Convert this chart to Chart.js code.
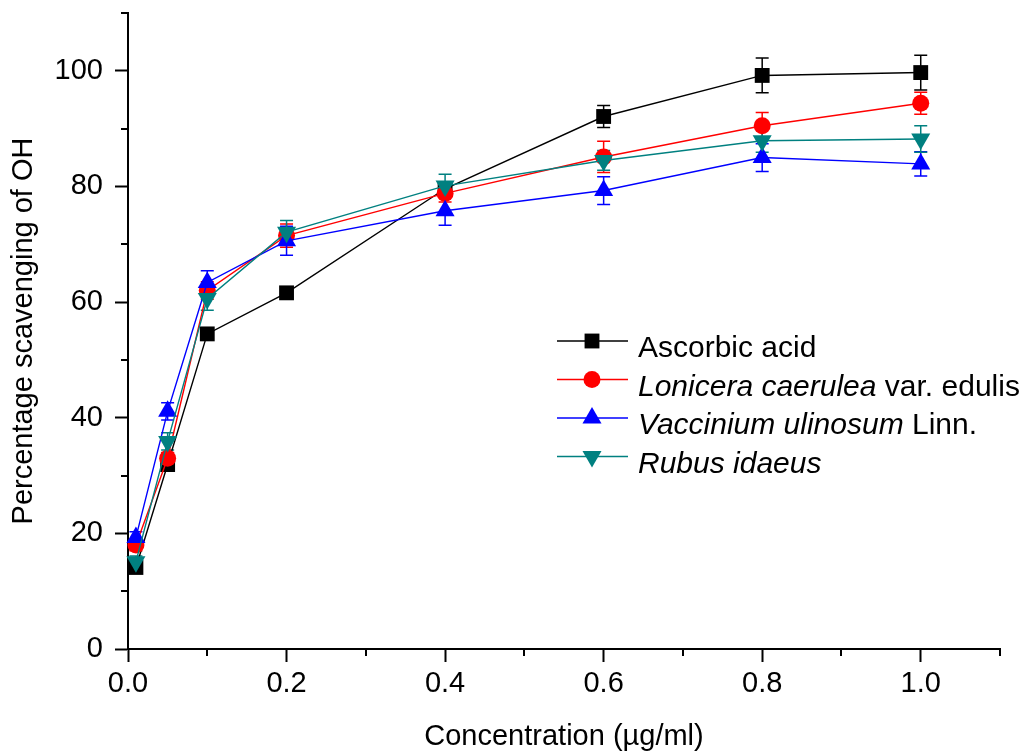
<!DOCTYPE html>
<html>
<head>
<meta charset="utf-8">
<script src="https://cdn.jsdelivr.net/npm/chart.js@4/dist/chart.umd.min.js"></script>
<style>
  html, body { margin: 0; padding: 0; background: #ffffff; }
  #wrap { width: 1024px; height: 751px; }
</style>
</head>
<body>
<div id="wrap"><canvas id="c" width="1024" height="751"></canvas></div>
<script>
const concentrations = [0.01, 0.05, 0.1, 0.2, 0.4, 0.6, 0.8, 1.0];
const ascorbicAcid = [14.1, 31.9, 54.5, 61.6, 79.6, 92.1, 99.2, 99.7];
const ascorbicErr = [0.8, 0.8, 1.0, 1.0, 1.0, 1.9, 3.0, 3.0];
const lonicera = [18.0, 33.0, 62.0, 71.5, 78.8, 85.1, 90.5, 94.4];
const loniceraErr = [1.0, 1.0, 1.5, 2.0, 1.5, 2.7, 2.3, 1.9];
const vaccinium = [19.3, 41.1, 63.4, 70.6, 75.8, 79.3, 85.0, 83.9];
const vacciniumErr = [1.0, 1.5, 2.0, 2.5, 2.5, 2.4, 2.4, 2.1];
const rubus = [15.1, 35.9, 60.6, 72.1, 80.1, 84.5, 87.9, 88.2];
const rubusErr = [1.0, 1.5, 2.0, 2.0, 2.0, 1.7, 2.0, 2.3];

const xTitle = 'Concentration (\u00b5g/ml)';
const yTitle = 'Percentage scavenging of OH';
const legendItems = [
  [['Ascorbic acid', false]],
  [['Lonicera caerulea', true], [' var. edulis', false]],
  [['Vaccinium ulinosum', true], [' Linn.', false]],
  [['Rubus idaeus', true]]
];

const FONT = '"Liberation Sans", Arial, Helvetica, sans-serif';

function pts(ys) { return concentrations.map((x, i) => ({ x: x, y: ys[i] })); }

const seriesDefs = [
  { label: 'Ascorbic acid', data: ascorbicAcid, err: ascorbicErr, color: '#000000', style: 'rect', radius: 10.5, rotation: 0, order: 3 },
  { label: 'Lonicera caerulea var. edulis', data: lonicera, err: loniceraErr, color: '#ff0000', style: 'circle', radius: 8.5, rotation: 0, order: 2 },
  { label: 'Vaccinium ulinosum Linn.', data: vaccinium, err: vacciniumErr, color: '#0000ff', style: 'triangle', radius: 11, rotation: 0, order: 1 },
  { label: 'Rubus idaeus', data: rubus, err: rubusErr, color: '#008080', style: 'triangle', radius: 11, rotation: 180, order: 0 }
];

const datasets = seriesDefs.map(s => ({
  label: s.label,
  data: pts(s.data),
  errors: s.err,
  showLine: true,
  borderColor: s.color,
  backgroundColor: s.color,
  borderWidth: 1.4,
  pointStyle: s.style,
  pointRadius: s.radius,
  pointRotation: s.rotation,
  pointBackgroundColor: s.color,
  pointBorderColor: s.color,
  pointBorderWidth: 0,
  tension: 0,
  order: s.order,
  clip: false
}));

const errorBarPlugin = {
  id: 'errorBars',
  beforeDatasetsDraw(chart) {
    const ctx = chart.ctx;
    const xs = chart.scales.x, ys = chart.scales.y;
    ctx.save();
    chart.data.datasets.forEach(ds => {
      ctx.strokeStyle = ds.borderColor;
      ctx.lineWidth = 1.5;
      ds.data.forEach((p, i) => {
        const e = ds.errors[i];
        const px = xs.getPixelForValue(p.x);
        const top = ys.getPixelForValue(p.y + e);
        const bot = ys.getPixelForValue(p.y - e);
        ctx.beginPath();
        ctx.moveTo(px, top); ctx.lineTo(px, bot);
        ctx.moveTo(px - 6.5, top); ctx.lineTo(px + 6.5, top);
        ctx.moveTo(px - 6.5, bot); ctx.lineTo(px + 6.5, bot);
        ctx.stroke();
      });
    });
    ctx.restore();
  }
};

const minorTickPlugin = {
  id: 'minorTicks',
  afterDraw(chart) {
    const ctx = chart.ctx;
    const xs = chart.scales.x, ys = chart.scales.y;
    const area = chart.chartArea;
    ctx.save();
    ctx.strokeStyle = '#000';
    ctx.lineWidth = 2;
    ctx.beginPath();
    for (let k = 1; k <= 11; k += 2) {
      const px = Math.round(xs.getPixelForValue(k / 10));
      ctx.moveTo(px, area.bottom); ctx.lineTo(px, area.bottom + 7);
    }
    for (let k = 1; k <= 11; k += 2) {
      const py = Math.round(ys.getPixelForValue(k * 10));
      ctx.moveTo(area.left, py); ctx.lineTo(area.left - 7, py);
    }
    ctx.stroke();
    ctx.restore();
  }
};

const legendPlugin = {
  id: 'customLegend',
  afterDraw(chart) {
    const ctx = chart.ctx;
    const x0 = 557, x1 = 628, mx = 592, tx = 638;
    const rowY = [341, 379.5, 418, 456.5];
    ctx.save();
    seriesDefs.forEach((s, i) => {
      const y = rowY[i];
      ctx.strokeStyle = s.color;
      ctx.lineWidth = 1.5;
      ctx.beginPath();
      ctx.moveTo(x0, y); ctx.lineTo(x1, y);
      ctx.stroke();
      ctx.fillStyle = s.color;
      Chart.helpers.drawPoint(ctx, {
        pointStyle: s.style, radius: s.radius, rotation: s.rotation, borderWidth: 0
      }, mx, y);
      let cx = tx;
      ctx.fillStyle = '#000';
      ctx.textBaseline = 'alphabetic';
      ctx.textAlign = 'left';
      legendItems[i].forEach(([txt, ital]) => {
        ctx.font = (ital ? 'italic ' : '') + '30px ' + FONT;
        ctx.fillText(txt, cx, y + 16);
        cx += ctx.measureText(txt).width;
      });
    });
    ctx.restore();
  }
};

new Chart(document.getElementById('c'), {
  type: 'scatter',
  data: { datasets: datasets },
  options: {
    responsive: false,
    devicePixelRatio: 1,
    animation: false,
    layout: { padding: { left: 0, top: 13, right: 24, bottom: 0 } },
    plugins: { legend: { display: false }, tooltip: { enabled: false } },
    scales: {
      x: {
        type: 'linear',
        min: 0,
        max: 1.1,
        afterFit(scale) { scale.height = 102; scale.paddingLeft = 0; scale.paddingRight = 0; },
        ticks: {
          stepSize: 0.2,
          includeBounds: false,
          padding: 5,
          color: '#000',
          font: { family: FONT, size: 29 },
          callback: v => Number(v).toFixed(1)
        },
        grid: { drawOnChartArea: false, drawTicks: true, tickLength: 13, tickWidth: 2, tickColor: '#000' },
        border: { display: true, color: '#000', width: 2 },
        title: { display: true, text: xTitle, color: '#000', font: { family: FONT, size: 29, lineHeight: 1.2 }, padding: { top: 0, bottom: -3 } }
      },
      y: {
        type: 'linear',
        min: 0,
        max: 110,
        afterFit(scale) { scale.width = 128; scale.paddingTop = 0; scale.paddingBottom = 0; },
        ticks: {
          stepSize: 20,
          includeBounds: false,
          padding: 12,
          color: '#000',
          font: { family: FONT, size: 29 },
          callback: v => String(Math.round(v))
        },
        grid: { drawOnChartArea: false, drawTicks: true, tickLength: 13, tickWidth: 2, tickColor: '#000' },
        border: { display: true, color: '#000', width: 2 },
        title: { display: true, text: yTitle, color: '#000', font: { family: FONT, size: 29, lineHeight: 1.2 }, padding: { top: 7, bottom: 0 } }
      }
    }
  },
  plugins: [errorBarPlugin, minorTickPlugin, legendPlugin]
});
</script>
</body>
</html>
